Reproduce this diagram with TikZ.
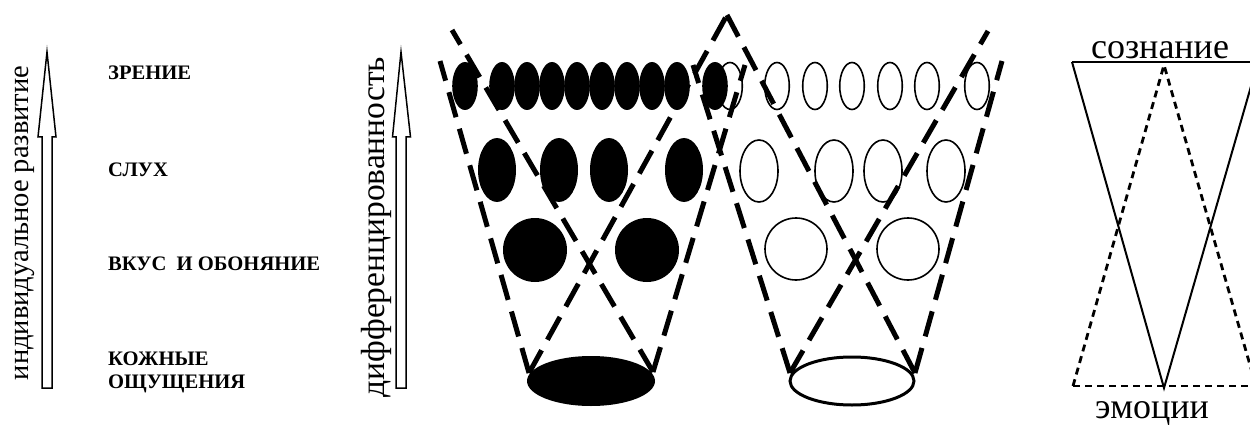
\documentclass[tikz,border=0pt]{standalone}
\usepackage{fontspec}
\setmainfont{Liberation Serif}
\begin{document}
\begin{tikzpicture}[x=1pt,y=-1pt,
  bigdash/.style={line width=5pt, dash pattern=on 26pt off 12pt},
  smalldash/.style={line width=2.8pt, dash pattern=on 7pt off 5pt},
  solidthin/.style={line width=2pt},
  openell/.style={draw=black, line width=1.6pt},
  lbl/.style={font=\fontsize{20.6}{23}\selectfont\bfseries, anchor=base west, inner sep=0pt},
  vtext/.style={rotate=90, anchor=base, inner sep=0pt},
  hollowarrow/.style={draw=black, line width=1.5pt, fill=white},
  bigtext/.style={font=\fontsize{36}{40}\selectfont, anchor=base, inner sep=0pt},
]
\clip (0,0) rectangle (1250,425);
\fill[white] (0,0) rectangle (1250,425);

% hollow arrows
\draw[hollowarrow] (42,388) -- (42,137) -- (38,137) -- (47,52) -- (56,137) -- (52,137) -- (52,388) -- cycle;
\draw[hollowarrow] (396,388) -- (396,137) -- (392.5,137) -- (401,52) -- (410.5,137) -- (406,137) -- (406,388) -- cycle;

% vertical texts
\node[vtext, font=\fontsize{28.5}{30}\selectfont] (t1) at (28,223) {индивидуальное развитие};
\node[vtext, font=\fontsize{33.5}{35}\selectfont] (t2) at (384,227) {дифференцированность};

% labels
\node[lbl] (zr) at (108,80) {ЗРЕНИЕ};
\node[lbl] (sl) at (108,176) {СЛУХ};
\node[lbl] (vk) at (108,270) {ВКУС\ \ И ОБОНЯНИЕ};
\node[lbl] (ko) at (108,365) {КОЖНЫЕ};
\node[lbl] (os) at (108,388) {ОЩУЩЕНИЯ};

% open ellipses
\foreach \x in {730,777,815,852,890,927,977}
  \draw[openell] (\x,86) ellipse [x radius=12.3, y radius=23.5];
\foreach \x in {759,834,883,946}
  \draw[openell] (\x,171) ellipse [x radius=19, y radius=31];
\foreach \x in {796,908}
  \draw[openell] (\x,249) circle [radius=31];
\draw[line width=3pt] (852,381) ellipse [x radius=62, y radius=24];

% filled ellipses
\foreach \x in {465,502,527,552,577,602,627,652,677,715}
  \fill (\x,86) ellipse [x radius=12.8, y radius=24];
\foreach \x in {497,559,609,684}
  \fill (\x,170) ellipse [x radius=19, y radius=32];
\foreach \x in {535,647}
  \fill (\x,250) circle [radius=32];
\fill (591,381) ellipse [x radius=64, y radius=25];

% dashed cone lines
\coordinate (L1) at (529,373);
\coordinate (L2) at (653,372);
\coordinate (R1) at (790,373);
\coordinate (R2) at (915,373);
\coordinate (LA) at (440,61);
\coordinate (LB) at (452,30);
\coordinate (P) at (727,15);
\coordinate (LC) at (745,65);
\coordinate (RA) at (693,65);
\coordinate (RB) at (988,31);
\coordinate (RC) at (1002,61);
\draw[bigdash] (L1) -- (LA);
\draw[bigdash] (L1) -- (P);
\draw[bigdash] (L2) -- (LB);
\draw[bigdash] (L2) -- (LC);
\draw[bigdash] (R1) -- (RA);
\draw[bigdash] (R1) -- (RB);
\draw[bigdash] (R2) -- (P);
\draw[bigdash] (R2) -- (RC);

% right panel
\coordinate (S1) at (1072,62);
\coordinate (S2) at (1164,388);
\coordinate (S3) at (1258,62);
\coordinate (D1) at (1073,386);
\coordinate (D2) at (1164,65);
\coordinate (D3) at (1256,386);
\draw[solidthin] (S1) -- (S3);
\draw[solidthin, line join=miter] (S1) -- (S2) -- (S3);
\draw[smalldash] (D1) -- (D3);
\draw[smalldash] (D1) -- (D2) -- (D3);

\node[bigtext] (soz) at (1160,59) {сознание};
\node[bigtext] (emo) at (1152,418) {эмоции};
\end{tikzpicture}
\end{document}
